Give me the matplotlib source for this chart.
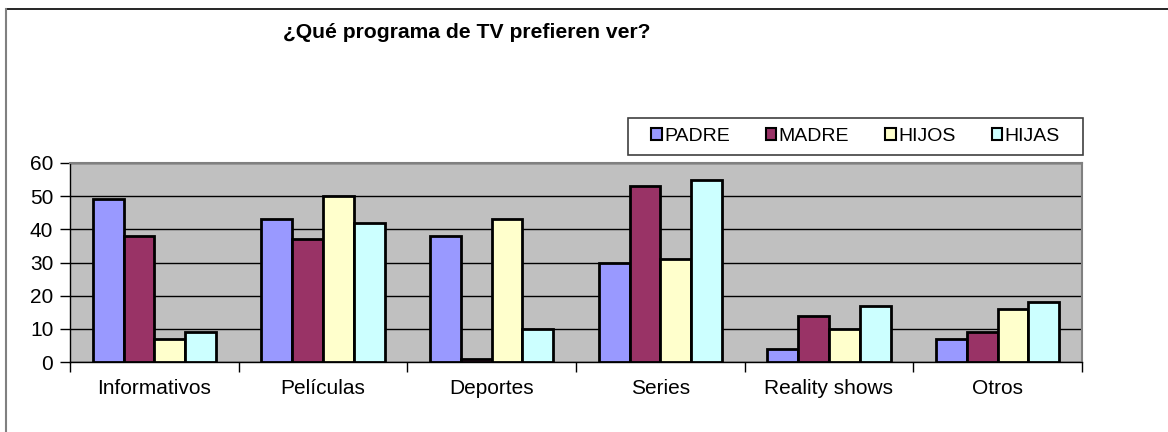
import matplotlib
matplotlib.use("Agg")
import matplotlib.pyplot as plt
import numpy as np
from matplotlib.patches import Rectangle
from matplotlib.lines import Line2D

categories = ["Informativos", "Películas", "Deportes", "Series", "Reality shows", "Otros"]
series_names = ["PADRE", "MADRE", "HIJOS", "HIJAS"]
padre = [49, 43, 38, 30, 4, 7]
madre = [38, 37, 1, 53, 14, 9]
hijos = [7, 50, 43, 31, 10, 16]
hijas = [9, 42, 10, 55, 17, 18]
y_ticks = [0, 10, 20, 30, 40, 50, 60]
title = "¿Qué programa de TV prefieren ver?"

colors = ["#9999FF", "#993366", "#FFFFCC", "#CCFFFF"]
values = [padre, madre, hijos, hijas]

plt.rcParams['font.family'] = ['Liberation Sans', 'DejaVu Sans']

W, H = 1168, 432
fig = plt.figure(figsize=(W / 100, H / 100), dpi=100)
fig.patch.set_facecolor("white")

# outer chart frame (top black, left gray)
fig.add_artist(Line2D([6 / W, 1.0], [1 - 9 / H, 1 - 9 / H], color="black", lw=1.2, transform=fig.transFigure))
fig.add_artist(Line2D([6 / W, 6 / W], [0, 1 - 9 / H], color="#808080", lw=1.5, transform=fig.transFigure))

left, right, top, bottom = 70, 1082, 163, 362
ax = fig.add_axes([left / W, 1 - bottom / H, (right - left) / W, (bottom - top) / H])
ax.set_facecolor("#C0C0C0")

n = len(series_names)
bw = 0.73 / n
x = np.arange(len(categories)) + 0.5
for i, (name, vals, c) in enumerate(zip(series_names, values, colors)):
    ax.bar(x + (i - (n - 1) / 2) * bw, vals, width=bw, color=c, edgecolor="black",
           linewidth=2, label=name, zorder=3)

ax.set_xlim(0, len(categories))
ax.set_ylim(0, 60)
ax.set_yticks(y_ticks)
ax.set_yticklabels([str(v) for v in y_ticks], fontsize=15)
ax.yaxis.grid(True, color="black", lw=1, zorder=1)
ax.set_axisbelow(True)

ax.set_xticks(np.arange(len(categories) + 1))
ax.set_xticklabels([])
ax.set_xticks(x, minor=True)
ax.set_xticklabels(categories, minor=True, fontsize=15)
ax.tick_params(axis="x", which="major", length=7, width=1, direction="out", color="black")
ax.tick_params(axis="x", which="minor", length=0, pad=12)
ax.tick_params(axis="y", length=7, width=1, direction="out", pad=5)

for s in ["top", "right"]:
    ax.spines[s].set_color("#808080")
    ax.spines[s].set_linewidth(1.5)
for s in ["left", "bottom"]:
    ax.spines[s].set_color("black")
    ax.spines[s].set_linewidth(1)

fig.text(467 / W, 1 - 33 / H, title, ha="center", va="center", fontsize=15.2, fontweight="bold")

# legend box
lx0, lx1, ly0, ly1 = 628, 1083, 118, 155
fig.add_artist(Rectangle((lx0 / W, 1 - ly1 / H), (lx1 - lx0) / W, (ly1 - ly0) / H,
                         transform=fig.transFigure, facecolor="white", edgecolor="#404040",
                         lw=1.2, zorder=4))
handles = [Rectangle((0, 0), 1, 1, facecolor=c, edgecolor="black", lw=1.5) for c in colors]
leg = fig.legend(handles, series_names, loc="center", ncol=4,
                 bbox_to_anchor=((lx0 + lx1) / 2 / W, 1 - (ly0 + ly1) / 2 / H),
                 fontsize=14, frameon=False,
                 handlelength=0.55, handleheight=0.55, handletextpad=0.12, columnspacing=1.85,
                 borderpad=0.2, borderaxespad=0)
leg.set_zorder(5)

fig.savefig("out.png", dpi=100, facecolor="white")
